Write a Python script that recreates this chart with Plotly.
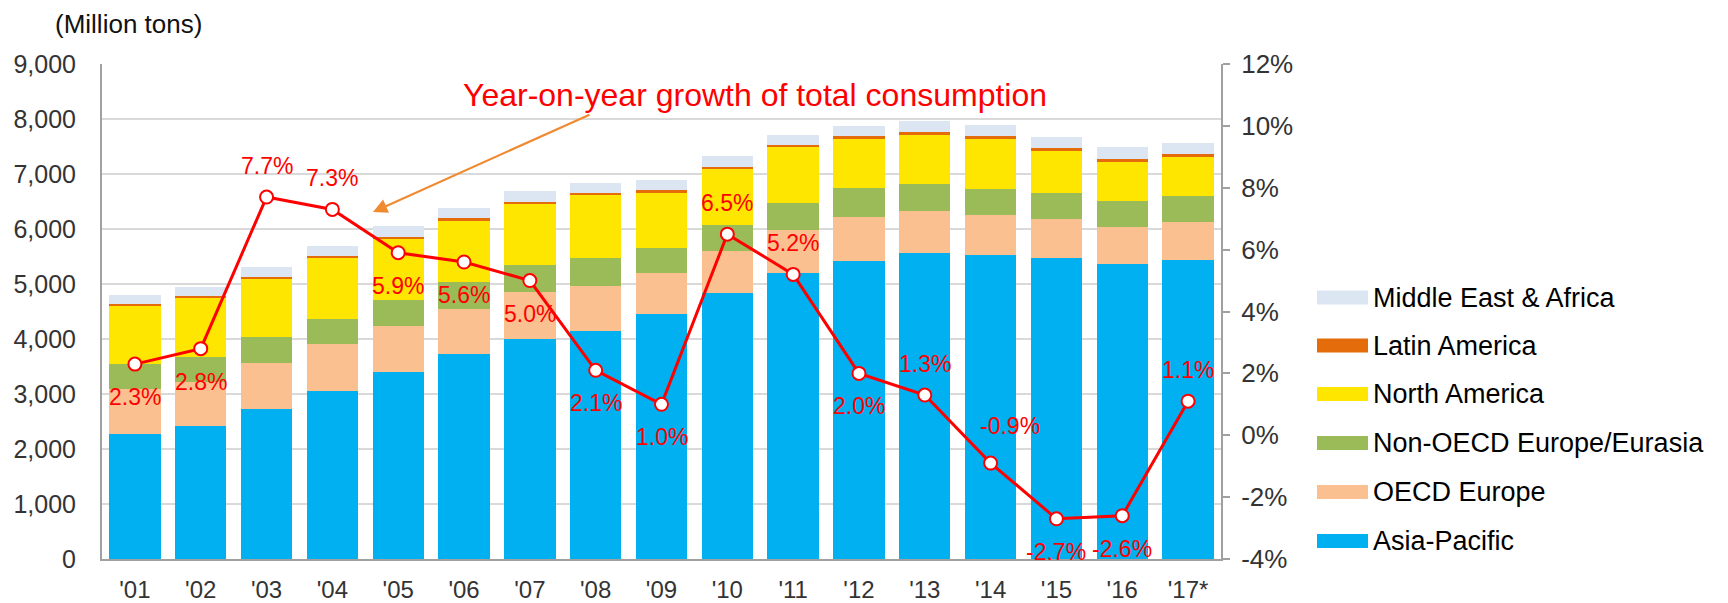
import plotly.graph_objects as go

years = ["'01", "'02", "'03", "'04", "'05", "'06", "'07", "'08", "'09",
         "'10", "'11", "'12", "'13", "'14", "'15", "'16", "'17*"]

asia_pacific = [2273, 2412, 2727, 3061, 3399, 3719, 4009, 4154, 4453,
                4840, 5202, 5420, 5566, 5536, 5464, 5355, 5434]
oecd_europe = [824, 806, 837, 842, 834, 834, 840, 816, 755,
               755, 774, 798, 755, 725, 712, 682, 694]
non_oecd_europe = [455, 455, 472, 467, 471, 483, 489, 501, 448,
                   478, 501, 525, 489, 471, 477, 471, 471]
north_america = [1054, 1072, 1055, 1099, 1112, 1118, 1118, 1139, 1003,
                 1021, 1009, 901, 906, 906, 773, 719, 719]
latin_america = [32, 40, 32, 40, 38, 42, 42, 40, 42,
                 42, 43, 42, 45, 45, 48, 45, 45]
middle_east_africa = [170, 160, 183, 176, 193, 182, 200, 181, 181,
                      199, 187, 193, 209, 214, 204, 215, 202]

growth = [2.3, 2.8, 7.7, 7.3, 5.9, 5.6, 5.0, 2.1, 1.0,
          6.5, 5.2, 2.0, 1.3, -0.9, -2.7, -2.6, 1.1]
label_side = ["below", "below", "above", "above", "below", "below", "below", "below", "below",
              "above", "above", "below", "above", "above", "below", "below", "above"]
# horizontal nudge (px) of individual data labels
label_nudge = [0, 0, 0, 0, 0, 0, 0, 0, 0, 0, 0, 0, 0, 19, 0, 0, 0]

growth_ticks = [-4, -2, 0, 2, 4, 6, 8, 10, 12]

series_names = ["Asia-Pacific", "OECD Europe", "Non-OECD Europe/Eurasia",
                "North America", "Latin America", "Middle East & Africa"]
series_values = [asia_pacific, oecd_europe, non_oecd_europe,
                 north_america, latin_america, middle_east_africa]
series_colors = ["#00B0F0", "#FAC090", "#9BBB59", "#FFE600", "#E46C0A", "#DCE6F2"]

FONT = "Liberation Sans, Arial, sans-serif"

fig = go.Figure()
for name, vals, col in zip(series_names, series_values, series_colors):
    fig.add_trace(go.Bar(x=years, y=vals, name=name, marker=dict(color=col, line=dict(width=0)),
                         showlegend=False))

fig.add_trace(go.Scatter(
    x=years, y=growth, yaxis="y2", mode="lines+markers",
    line=dict(color="#FF0000", width=3),
    marker=dict(symbol="circle", size=13, color="white", line=dict(color="#FF0000", width=2)),
    cliponaxis=False, showlegend=False, name="Year-on-year growth"))

annotations = []
for x, g, side, dx in zip(years, growth, label_side, label_nudge):
    up = 31 + (6 if dx else 0)
    annotations.append(dict(
        x=x, y=g, xref="x", yref="y2", text=f"{g:.1f}%", showarrow=False,
        xanchor="center", yanchor="middle", xshift=dx,
        yshift=up if side == "above" else -33,
        font=dict(family=FONT, size=23, color="#FF0000")))

# plot-area geometry in page pixels (page body has an 8px margin)
PAGE_OFF = 8
L, R, T, B = 102, 1221, 64, 559
W, H = R - L, B - T


def px(xp):
    return (xp - L) / W


def py(yp):
    return (B - yp) / H


annotations.append(dict(
    x=px(128), y=py(24), xref="paper", yref="paper", text="(Million tons)",
    xanchor="center", yanchor="middle",
    showarrow=False, font=dict(family=FONT, size=26, color="#111111")))

annotations.append(dict(
    x=px(755), y=py(95), xref="paper", yref="paper",
    text="Year-on-year growth of total consumption",
    xanchor="center", yanchor="middle",
    showarrow=False, font=dict(family=FONT, size=32, color="#FF0000")))

annotations.append(dict(
    x=px(373), y=py(212), xref="paper", yref="paper", text="",
    showarrow=True, ax=218, ay=-98, arrowhead=2, arrowsize=1.3, arrowwidth=2.2,
    arrowcolor="#F08A30"))

# custom legend (top to bottom: reverse of stacking order)
shapes = []
legend_centers = [297.5, 345.5, 394, 443, 492, 541]
for i, (name, col) in enumerate(zip(series_names[::-1], series_colors[::-1])):
    yc = legend_centers[i]
    shapes.append(dict(type="rect", xref="paper", yref="paper",
                       x0=px(1317), x1=px(1368), y0=py(yc + 7), y1=py(yc - 7),
                       fillcolor=col, line=dict(width=0)))
    annotations.append(dict(
        x=px(1371), y=py(yc), xref="paper", yref="paper", text=name,
        xanchor="left", yanchor="middle", showarrow=False,
        font=dict(family=FONT, size=27, color="#000000")))

FIG_W, FIG_H = 1728 - PAGE_OFF, 603 - PAGE_OFF

fig.update_layout(
    width=FIG_W, height=FIG_H, autosize=False,
    margin=dict(l=L - PAGE_OFF, r=1728 - R, t=T - PAGE_OFF, b=603 - B, autoexpand=False),
    paper_bgcolor="white", plot_bgcolor="white",
    barmode="stack", bargap=0.22,
    font=dict(family=FONT, color="#333333"),
    xaxis=dict(type="category", range=[-0.5, len(years) - 0.5],
               showline=True, linecolor="#A0A0A0", linewidth=2,
               ticks="", showgrid=False, tickfont=dict(size=24, color="#333333"),
               ticklabelstandoff=8),
    yaxis=dict(range=[0, 9000], dtick=1000, tickformat=",", showgrid=True,
               gridcolor="#D9D9D9", gridwidth=2, zeroline=False,
               showline=True, linecolor="#A0A0A0", linewidth=2, ticks="",
               tickfont=dict(size=25, color="#333333"), ticklabelstandoff=19),
    yaxis2=dict(range=[-4, 12], tickmode="array", tickvals=growth_ticks,
                ticktext=[f"{t}%" for t in growth_ticks],
                overlaying="y", side="right",
                showgrid=False, zeroline=False, showline=True, linecolor="#A0A0A0",
                linewidth=2, ticks="outside", ticklen=7, tickwidth=2, tickcolor="#A0A0A0",
                tickfont=dict(size=26, color="#333333"), ticklabelstandoff=6),
    annotations=annotations, shapes=shapes,
)

fig.write_html("out.html")
